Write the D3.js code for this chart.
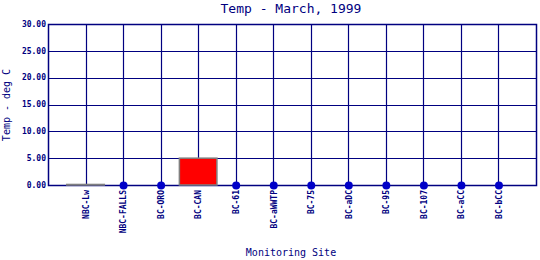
<!DOCTYPE html>
<html><head><meta charset="utf-8">
<script src="https://cdn.jsdelivr.net/npm/d3@7"></script>
<style>body{margin:0;background:#fff}svg{display:block}</style>
</head><body><svg id="c" width="540" height="260"></svg>
<script>
const sites = ["NBC-Lw","NBC-FALLS","BC-ORO","BC-CAN","BC-61","BC-aWWTP","BC-75","BC-aDC","BC-95","BC-107","BC-aCC","BC-bCC"];
const temps = [0.1, null, null, 5.0, null, null, null, null, null, null, null, null];
const yTicks = [0, 5, 10, 15, 20, 25, 30];
const title = "Temp - March, 1999";
const yTitle = "Temp - deg C";
const xTitle = "Monitoring Site";

const navy = "#000080", mono = "'DejaVu Sans Mono', monospace";
const L = 48, R = 536, T = 24, B = 185;
const svg = d3.select("#c");
const x = d3.scalePoint().domain(sites).range([L, R]).padding(1);
const y = d3.scaleLinear().domain([0, 30]).range([B, T]);
const bw = x.step();

// grid
svg.append("g").selectAll("line").data(yTicks).join("line")
  .attr("x1", L).attr("x2", R).attr("y1", d => Math.round(y(d)) + 0.5).attr("y2", d => Math.round(y(d)) + 0.5)
  .attr("stroke", navy).attr("stroke-width", 1.2);
svg.append("g").selectAll("line").data(sites).join("line")
  .attr("x1", d => Math.round(x(d)) + 0.5).attr("x2", d => Math.round(x(d)) + 0.5)
  .attr("y1", T).attr("y2", B).attr("stroke", navy).attr("stroke-width", 1.2);
svg.append("rect").attr("x", L + 0.5).attr("y", T + 0.5).attr("width", R - L).attr("height", B - T)
  .attr("fill", "none").attr("stroke", navy).attr("stroke-width", 1.5);

// y tick labels
svg.append("g").selectAll("text").data(yTicks).join("text")
  .attr("x", 46).attr("y", d => y(d)).attr("dy", "0.35em").attr("text-anchor", "end")
  .attr("font-family", mono).attr("font-size", 8).attr("font-weight", "bold").attr("fill", navy)
  .text(d => d3.format(".2f")(d));

// bars
const bars = sites.map((s, i) => ({s, v: temps[i]})).filter(d => d.v != null);
svg.append("g").selectAll("rect").data(bars).join("rect")
  .attr("x", d => x(d.s) - bw / 2).attr("width", bw)
  .attr("y", d => y(d.v)).attr("height", d => Math.max(0, y(0) - y(d.v)))
  .attr("fill", "#ff0000").attr("stroke", "#808080").attr("stroke-width", 1.5);

// missing markers
const miss = sites.filter((s, i) => temps[i] == null);
svg.append("g").selectAll("circle").data(miss).join("circle")
  .attr("cx", d => x(d) + 0.5).attr("cy", y(0) + 0.5).attr("r", 4).attr("fill", "#0000c8");

// category labels
svg.append("g").selectAll("text").data(sites).join("text")
  .attr("transform", d => `translate(${x(d) + 0.5},190) rotate(-90)`)
  .attr("dy", "0.35em").attr("text-anchor", "end")
  .attr("font-family", mono).attr("font-size", 8).attr("font-weight", "bold").attr("fill", navy)
  .text(d => d);

// titles
svg.append("text").attr("x", 291).attr("y", 13).attr("text-anchor", "middle")
  .attr("font-family", mono).attr("font-size", 13).attr("fill", navy).text(title);
svg.append("text").attr("x", 291).attr("y", 256).attr("text-anchor", "middle")
  .attr("font-family", mono).attr("font-size", 10).attr("fill", navy).text(xTitle);
svg.append("text").attr("transform", "translate(10,105) rotate(-90)").attr("text-anchor", "middle")
  .attr("font-family", mono).attr("font-size", 10).attr("fill", navy).text(yTitle);
</script></body></html>
